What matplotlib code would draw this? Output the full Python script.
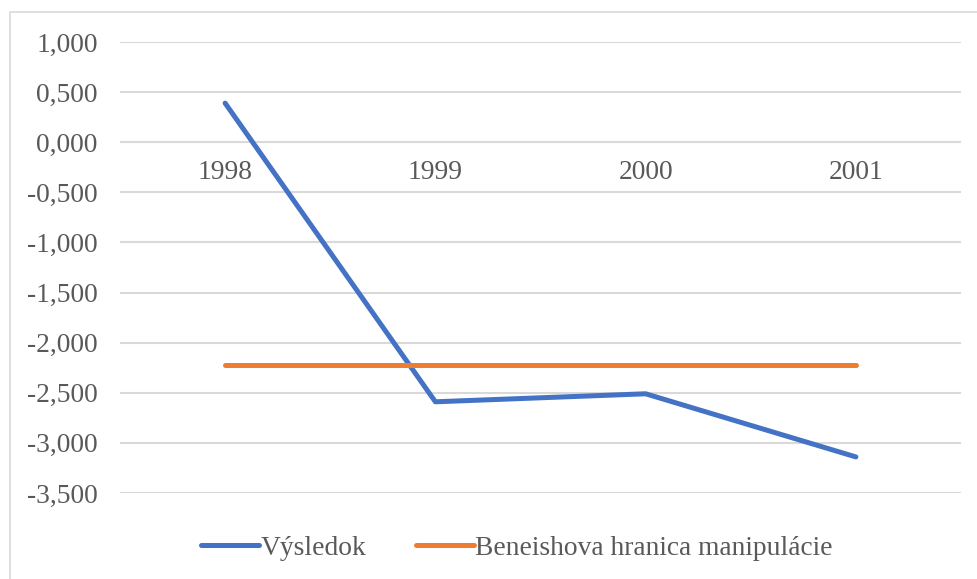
import matplotlib.pyplot as plt
from matplotlib.ticker import FuncFormatter
from matplotlib.patches import Rectangle

years = ['1998', '1999', '2000', '2001']
vysledok = [0.39, -2.59, -2.51, -3.14]
hranica = [-2.22, -2.22, -2.22, -2.22]
yticks = [1.0, 0.5, 0.0, -0.5, -1.0, -1.5, -2.0, -2.5, -3.0, -3.5]

plt.rcParams['font.family'] = ['Liberation Serif', 'DejaVu Serif']
TXT = '#595959'
FS = 19.8

fig = plt.figure(figsize=(9.78, 5.79), dpi=100)
ax = fig.add_axes([120 / 978, 1 - 493 / 579, (961 - 120) / 978, (493 - 42) / 579])

x = range(len(years))
ax.plot(x, vysledok, color='#4472C4', lw=3.6, solid_capstyle='round', label='Výsledok', zorder=3)
ax.plot(x, hranica, color='#ED7D31', lw=3.6, solid_capstyle='round',
        label='Beneishova hranica manipulácie', zorder=3)

ax.set_xlim(-0.5, len(years) - 0.5)
ax.set_ylim(-3.5, 1.0)
ax.set_yticks(yticks)
ax.yaxis.set_major_formatter(FuncFormatter(lambda v, p: f'{v:.3f}'.replace('.', ',')))
ax.set_xticks(list(x))
ax.set_xticklabels(years)

for s in ['top', 'right', 'left']:
    ax.spines[s].set_visible(False)
ax.spines['bottom'].set_position(('data', 0))
ax.spines['bottom'].set_visible(False)

ax.tick_params(axis='y', length=0, pad=16, labelsize=FS, labelcolor=TXT)
ax.tick_params(axis='x', length=0, pad=13, labelsize=FS, labelcolor=TXT)
ax.grid(axis='y', color='#D9D9D9', lw=1.5, zorder=0)
ax.set_axisbelow(True)

fig.patches.append(Rectangle((10 / 978, -0.1), 1.2, 1.1 - 12 / 579, transform=fig.transFigure,
                             fill=False, edgecolor='#D9D9D9', lw=1.2))

fig.legend(loc='center', bbox_to_anchor=(517 / 978, 1 - 548 / 579), ncol=2, frameon=False,
           fontsize=FS, labelcolor=TXT, handlelength=2.1, handletextpad=0.05, columnspacing=1.8)

fig.savefig('out.png', dpi=100)
